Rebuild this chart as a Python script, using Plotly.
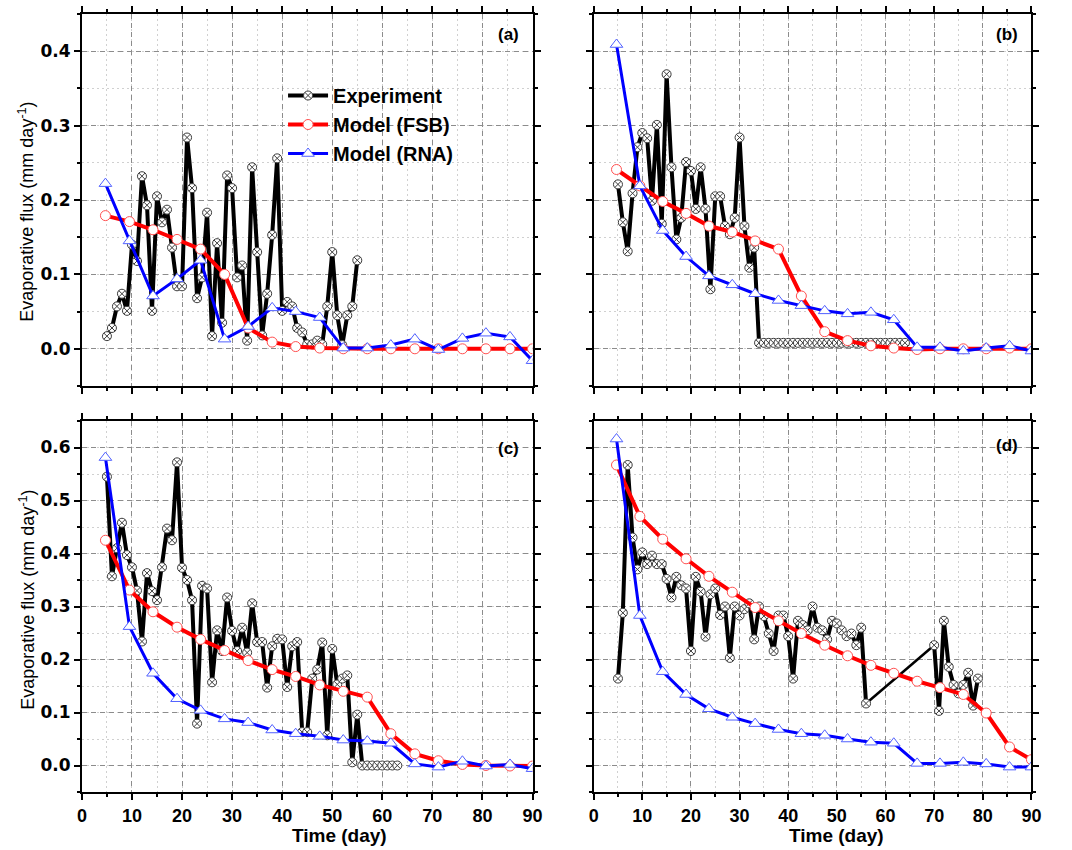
import plotly.graph_objects as go

# ---------------- data ----------------
# Experiment (daily measurements)
T_EXP_A = list(range(5, 56))
EXP_A = [0.017, 0.028, 0.057, 0.074, 0.051, 0.140, 0.118, 0.232, 0.193, 0.051,
         0.205, 0.170, 0.187, 0.136, 0.084, 0.084, 0.284, 0.216, 0.068, 0.096,
         0.183, 0.017, 0.142, 0.035, 0.233, 0.216, 0.096, 0.112, 0.011, 0.244,
         0.130, 0.018, 0.074, 0.153, 0.256, 0.051, 0.063, 0.057, 0.028, 0.022,
         0.006, 0.006, 0.011, 0.006, 0.057, 0.130, 0.045, 0.005, 0.045, 0.057,
         0.119]

T_EXP_B = list(range(5, 65))
EXP_B = [0.221, 0.170, 0.131, 0.209, 0.271, 0.290, 0.283, 0.199, 0.301, 0.168,
         0.369, 0.244, 0.147, 0.176, 0.251, 0.239, 0.188, 0.244, 0.188, 0.080,
         0.205, 0.205, 0.165, 0.154, 0.176, 0.284, 0.165, 0.109, 0.136, 0.008,
         0.008, 0.008, 0.008, 0.008, 0.008, 0.008, 0.008, 0.008, 0.008, 0.008,
         0.008, 0.008, 0.008, 0.008, 0.008, 0.008, 0.008, 0.008, 0.008, 0.008,
         0.008, 0.008, 0.008, 0.008, 0.008, 0.008, 0.008, 0.008, 0.008, 0.008]

T_EXP_C = list(range(5, 64))
EXP_C = [0.545, 0.357, 0.410, 0.458, 0.397, 0.374, 0.330, 0.234, 0.363, 0.329,
         0.312, 0.374, 0.447, 0.425, 0.572, 0.373, 0.350, 0.312, 0.079, 0.339,
         0.334, 0.157, 0.255, 0.216, 0.317, 0.254, 0.216, 0.260, 0.213, 0.306,
         0.233, 0.233, 0.147, 0.225, 0.239, 0.238, 0.148, 0.225, 0.233, 0.063,
         0.063, 0.164, 0.181, 0.232, 0.057, 0.220, 0.153, 0.164, 0.170, 0.006,
         0.096, 0.0, 0.0, 0.0, 0.0, 0.0, 0.0, 0.0, 0.0]

T_EXP_D = list(range(5, 57)) + list(range(70, 80))
EXP_D = [0.164, 0.288, 0.567, 0.430, 0.370, 0.402, 0.380, 0.396, 0.380, 0.380,
         0.352, 0.317, 0.356, 0.340, 0.334, 0.216, 0.356, 0.328, 0.243, 0.323,
         0.334, 0.284, 0.300, 0.203, 0.300, 0.283, 0.295, 0.306, 0.238, 0.300,
         0.282, 0.249, 0.216, 0.283, 0.283, 0.244, 0.164, 0.273, 0.265, 0.255,
         0.300, 0.260, 0.255, 0.238, 0.273, 0.268, 0.255, 0.244, 0.249, 0.227,
         0.260, 0.117,
         0.227, 0.103, 0.273, 0.186, 0.152, 0.136, 0.152, 0.175, 0.113, 0.164]
GAP_D = (56, 70)  # measurement gap in panel (d)

# Model time grid
T_MODEL = [4.7, 9.5, 14.2, 19.0, 23.7, 28.5, 33.2, 38.0, 42.7, 47.5,
           52.2, 57.0, 61.7, 66.5, 71.2, 76.0, 80.7, 85.5, 90.0]

FSB_A = [0.179, 0.171, 0.160, 0.147, 0.134, 0.100, 0.028, 0.009, 0.003, 0.001,
         0.0, 0.0, 0.0, 0.0, 0.0, 0.0, 0.0, 0.0, 0.0]
RNA_A = [0.222, 0.145, 0.071, 0.094, 0.119, 0.013, 0.030, 0.055, 0.050, 0.042,
         0.001, 0.001, 0.005, 0.013, -0.001, 0.014, 0.021, 0.016, -0.016]

FSB_B = [0.241, 0.219, 0.198, 0.182, 0.165, 0.157, 0.145, 0.134, 0.071, 0.023,
         0.011, 0.004, 0.001, -0.001, 0.0, 0.0, 0.0, 0.001, 0.0]
RNA_B = [0.409, 0.219, 0.159, 0.124, 0.098, 0.086, 0.074, 0.065, 0.058, 0.051,
         0.047, 0.049, 0.039, 0.002, 0.002, -0.003, 0.001, 0.004, -0.003]

FSB_C = [0.425, 0.331, 0.290, 0.261, 0.238, 0.217, 0.198, 0.181, 0.168, 0.152,
         0.140, 0.129, 0.060, 0.022, 0.009, 0.002, 0.0, -0.001, -0.001]
RNA_C = [0.581, 0.262, 0.174, 0.126, 0.104, 0.088, 0.081, 0.067, 0.060, 0.055,
         0.048, 0.046, 0.042, 0.003, -0.003, 0.008, -0.001, 0.002, -0.006]

FSB_D = [0.567, 0.470, 0.427, 0.390, 0.357, 0.327, 0.298, 0.273, 0.249, 0.227,
         0.207, 0.189, 0.174, 0.159, 0.147, 0.134, 0.099, 0.035, 0.011]
RNA_D = [0.616, 0.283, 0.177, 0.134, 0.107, 0.091, 0.079, 0.068, 0.060, 0.057,
         0.050, 0.044, 0.042, 0.004, 0.004, 0.006, 0.003, -0.003, -0.003]

X_TICKS = [0, 10, 20, 30, 40, 50, 60, 70, 80, 90]
PANEL_LABELS = ["(a)", "(b)", "(c)", "(d)"]
SERIES_NAMES = ["Experiment", "Model (FSB)", "Model (RNA)"]

# ---------------- figure ----------------
W, H = 1072, 850
fig = go.Figure()

def px(x):
    return x / W

def py(y):
    return 1 - y / H

dom_x = [[px(78), px(535)], [px(597), px(1041)]]
dom_y = [[py(386), py(14)], [py(792), py(421)]]

exp_style = dict(mode="lines+markers", line=dict(color="black", width=4),
                 marker=dict(symbol="circle-x", size=9, color="white",
                             line=dict(color="#3a3a3a", width=1)))
fsb_style = dict(mode="lines+markers", line=dict(color="#ff0000", width=4),
                 marker=dict(symbol="circle", size=10, color="white",
                             line=dict(color="#ff5050", width=1)))
rna_style = dict(mode="lines+markers", line=dict(color="#0000ff", width=3),
                 marker=dict(symbol="triangle-up", size=11, color="white",
                             line=dict(color="#5060ff", width=1)))

panels = [
    (T_EXP_A, EXP_A, FSB_A, RNA_A),
    (T_EXP_B, EXP_B, FSB_B, RNA_B),
    (T_EXP_C, EXP_C, FSB_C, RNA_C),
    (T_EXP_D, EXP_D, FSB_D, RNA_D),
]

for i, (te, ye, yf, yr) in enumerate(panels):
    ax = "" if i == 0 else str(i + 1)
    xa, ya = "x" + ax, "y" + ax
    show = (i == 0)
    if i == 3:
        # split at the measurement gap; connector drawn thinner
        k0 = te.index(GAP_D[0])
        k1 = te.index(GAP_D[1])
        fig.add_trace(go.Scatter(x=[te[k0], te[k1]], y=[ye[k0], ye[k1]],
                                 mode="lines", line=dict(color="black", width=2.5),
                                 showlegend=False, xaxis=xa, yaxis=ya,
                                 hoverinfo="skip"))
        xs = te[:k0 + 1] + [None] + te[k1:]
        ys = ye[:k0 + 1] + [None] + ye[k1:]
    else:
        xs, ys = te, ye
    fig.add_trace(go.Scatter(x=xs, y=ys, name=SERIES_NAMES[0], showlegend=show,
                             xaxis=xa, yaxis=ya, connectgaps=False, **exp_style))
    fig.add_trace(go.Scatter(x=T_MODEL, y=yf, name=SERIES_NAMES[1], showlegend=show,
                             xaxis=xa, yaxis=ya, **fsb_style))
    fig.add_trace(go.Scatter(x=T_MODEL, y=yr, name=SERIES_NAMES[2], showlegend=show,
                             xaxis=xa, yaxis=ya, **rna_style))

tick_font_x = dict(family="Liberation Sans, Arial", size=18, color="black", weight="bold")
tick_font_y = dict(family="DejaVu Sans", size=17, color="black", weight="bold")

common_axis = dict(
    showline=True, linecolor="black", linewidth=2, mirror="allticks",
    ticks="outside", ticklen=6, tickwidth=1.5, tickcolor="black",
    showgrid=True, gridcolor="#8c8c8c", gridwidth=1, griddash="5px,4px",
    zeroline=False,
)

layout_axes = {}
for i in range(4):
    r, c = divmod(i, 2)
    ax = "" if i == 0 else str(i + 1)
    anchor = "y" + ax
    xaxis = dict(common_axis, domain=dom_x[c], anchor=anchor, range=[0, 90],
                 tickvals=X_TICKS, showticklabels=(r == 1), tickfont=tick_font_x,
                 minor=dict(dtick=5, tick0=0, ticks="outside", ticklen=3,
                            tickwidth=1.5, tickcolor="black", showgrid=True,
                            gridcolor="#d0d0d0", griddash="2px,3px", gridwidth=1))
    if r == 0:
        yrange, ytv = [-0.05, 0.45], [0.0, 0.1, 0.2, 0.3, 0.4]
    else:
        yrange, ytv = [-0.05, 0.65], [0.0, 0.1, 0.2, 0.3, 0.4, 0.5, 0.6]
    yaxis = dict(common_axis, domain=dom_y[r], anchor="x" + ax, range=yrange,
                 tickvals=ytv, ticktext=["%.1f" % v for v in ytv],
                 showticklabels=(c == 0), tickfont=tick_font_y,
                 minor=dict(dtick=0.05, tick0=0, ticks="outside", ticklen=3,
                            tickwidth=1.5, tickcolor="black", showgrid=True,
                            gridcolor="#d0d0d0", griddash="2px,3px", gridwidth=1))
    layout_axes["xaxis" + ax] = xaxis
    layout_axes["yaxis" + ax] = yaxis

fig.update_layout(
    width=W, height=H,
    margin=dict(l=0, r=0, t=0, b=0),
    paper_bgcolor="white", plot_bgcolor="white",
    showlegend=True,
    legend=dict(x=px(282), y=py(76), xanchor="left", yanchor="top",
                bgcolor="rgba(0,0,0,0)", borderwidth=0,
                font=dict(family="Liberation Sans, Arial", size=20, color="black",
                          weight="bold"),
                tracegroupgap=0, itemwidth=40),
    **layout_axes,
)

annotations = []
label_pos = [(511, 35), (1016, 35), (511, 449), (1016, 445)]
for lab, (lx, ly) in zip(PANEL_LABELS, label_pos):
    annotations.append(dict(x=px(lx), y=py(ly), xref="paper", yref="paper",
                            text=lab, showarrow=False, xanchor="center", yanchor="middle",
                            font=dict(family="Liberation Sans, Arial", size=17,
                                      color="black", weight="bold")))
ytitle = "Evaporative flux (mm day<sup>-1</sup>)"
for cy in (212, 600):
    annotations.append(dict(x=px(22), y=py(cy), xref="paper", yref="paper",
                            text=ytitle, showarrow=False, textangle=-90,
                            xanchor="center", yanchor="middle",
                            font=dict(family="Liberation Sans, Arial", size=18,
                                      color="black")))
for cx in (339, 843):
    annotations.append(dict(x=px(cx), y=py(835), xref="paper", yref="paper",
                            text="Time (day)", showarrow=False,
                            xanchor="center", yanchor="middle",
                            font=dict(family="Liberation Sans, Arial", size=19,
                                      color="black", weight="bold")))
fig.update_layout(annotations=annotations)

fig.write_html("out.html")
